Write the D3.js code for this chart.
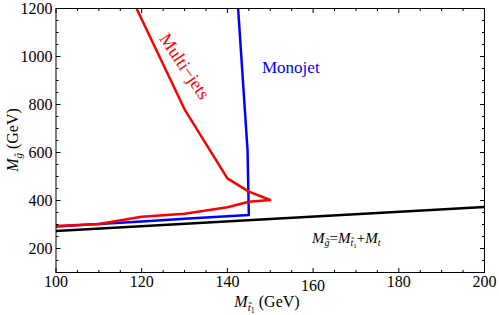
<!DOCTYPE html>
<html><head><meta charset="utf-8">
<script src="https://cdn.jsdelivr.net/npm/d3@7"></script>
<style>body{margin:0;background:#fff}svg{display:block}</style>
</head><body>
<script>
// Data
const xTicks = [100,120,140,160,180,200];
const yTicks = [200,400,600,800,1000,1200];
const multiJetX = [100,110,120,130,140,145,150,145,140,130,118.8];
const multiJetY = [294,302,332,345,372,395,402,437,492,780,1200];
const monojetX = [100,110,120,130,140,145,144.7,142.5];
const monojetY = [292,302,313,324,334,340,610,1200];
const kinX = [100,200];
const kinY = [273,373];

const FONT = "'Liberation Serif','Times New Roman',Times,'DejaVu Serif',serif";
const W=499,H=315;
const m={l:56,r:W-484.5,t:8.5,b:H-272.5};
const svg=d3.select("body").append("svg").attr("width",W).attr("height",H)
  .attr("font-family",FONT).style("font-family",FONT);
const x=d3.scaleLinear().domain([100,200]).range([m.l,W-m.r]);
const y=d3.scaleLinear().domain([100,1200]).range([H-m.b,m.t]);

svg.append("clipPath").attr("id","c").append("rect")
  .attr("x",m.l).attr("y",m.t).attr("width",x(200)-x(100)).attr("height",y(100)-y(1200));

const line=d3.line().x(d=>x(d[0])).y(d=>y(d[1]));
const g=svg.append("g").attr("clip-path","url(#c)");
g.append("path").datum(kinX.map((v,i)=>[v,kinY[i]])).attr("d",line)
  .attr("fill","none").attr("stroke","#000").attr("stroke-width",2.5);
g.append("path").datum(monojetX.map((v,i)=>[v,monojetY[i]])).attr("d",line)
  .attr("fill","none").attr("stroke","#0000ff").attr("stroke-width",2.5).attr("stroke-linejoin","round");
g.append("path").datum(multiJetX.map((v,i)=>[v,multiJetY[i]])).attr("d",line)
  .attr("fill","none").attr("stroke","#ff0000").attr("stroke-width",2.5).attr("stroke-linejoin","round");

// frame
svg.append("rect").attr("x",m.l).attr("y",m.t).attr("width",x(200)-x(100)).attr("height",y(100)-y(1200))
  .attr("fill","none").attr("stroke","#000").attr("stroke-width",1);

// ticks
const xMinor=d3.range(100,201,5), yMinor=d3.range(100,1201,50);
const tk=svg.append("g").attr("stroke","#000").attr("stroke-width",1);
xMinor.forEach(v=>{
  const L = v%20===0?4.5:2.5;
  tk.append("line").attr("x1",x(v)).attr("x2",x(v)).attr("y1",y(100)).attr("y2",y(100)-L);
  tk.append("line").attr("x1",x(v)).attr("x2",x(v)).attr("y1",y(1200)).attr("y2",y(1200)+L);
});
yMinor.forEach(v=>{
  const L = v%200===0?4.5:2.5;
  tk.append("line").attr("y1",y(v)).attr("y2",y(v)).attr("x1",x(100)).attr("x2",x(100)+L);
  tk.append("line").attr("y1",y(v)).attr("y2",y(v)).attr("x1",x(200)).attr("x2",x(200)-L);
});

// tick labels
svg.append("g").selectAll("text").data(xTicks).join("text")
  .attr("x",d=>x(d)).attr("y",d=>d===160?291:287).attr("text-anchor","middle")
  .attr("font-size",16).text(d=>d);
svg.append("g").selectAll("text").data(yTicks).join("text")
  .attr("x",m.l-3.5).attr("y",d=>y(d)).attr("dy","0.35em").attr("text-anchor","end")
  .attr("font-size",16).text(d=>d);

// axis labels
const xl=svg.append("text").attr("x",267).attr("y",307).attr("text-anchor","middle").attr("font-size",16);
xl.append("tspan").attr("font-style","italic").text("M");
xl.append("tspan").attr("font-style","italic").attr("font-size",11).attr("dy",4).text("t\u0303");
xl.append("tspan").attr("font-size",8).attr("dy",2).text("1");
xl.append("tspan").attr("dy",-6).text(" (GeV)");

const yl=svg.append("text").attr("transform",`translate(18,${140}) rotate(-90)`).attr("text-anchor","middle").attr("font-size",16);
yl.append("tspan").attr("font-style","italic").text("M");
yl.append("tspan").attr("font-style","italic").attr("font-size",11).attr("dy",4).text("g\u0303");
yl.append("tspan").attr("dy",-4).text(" (GeV)");

// annotations
svg.append("text").attr("x",262).attr("y",73).attr("fill","#0000ff").attr("font-size",17).text("Monojet");
svg.append("text").attr("transform","translate(185,66) rotate(56)").attr("text-anchor","middle")
  .attr("dy","0.35em").attr("fill","#ff0000").attr("font-size",18).text("Multi\u2212jets");

const f=svg.append("text").attr("x",312).attr("y",243).attr("font-size",15);
f.append("tspan").attr("font-style","italic").text("M");
f.append("tspan").attr("font-style","italic").attr("font-size",10).attr("dy",3).text("g\u0303");
f.append("tspan").attr("dy",-3).text("=");
f.append("tspan").attr("font-style","italic").text("M");
f.append("tspan").attr("font-style","italic").attr("font-size",10).attr("dy",3).text("t\u0303");
f.append("tspan").attr("font-size",7).attr("dy",2).text("1");
f.append("tspan").attr("dy",-5).text("+");
f.append("tspan").attr("font-style","italic").text("M");
f.append("tspan").attr("font-style","italic").attr("font-size",10).attr("dy",3).text("t");
</script>
</body></html>
